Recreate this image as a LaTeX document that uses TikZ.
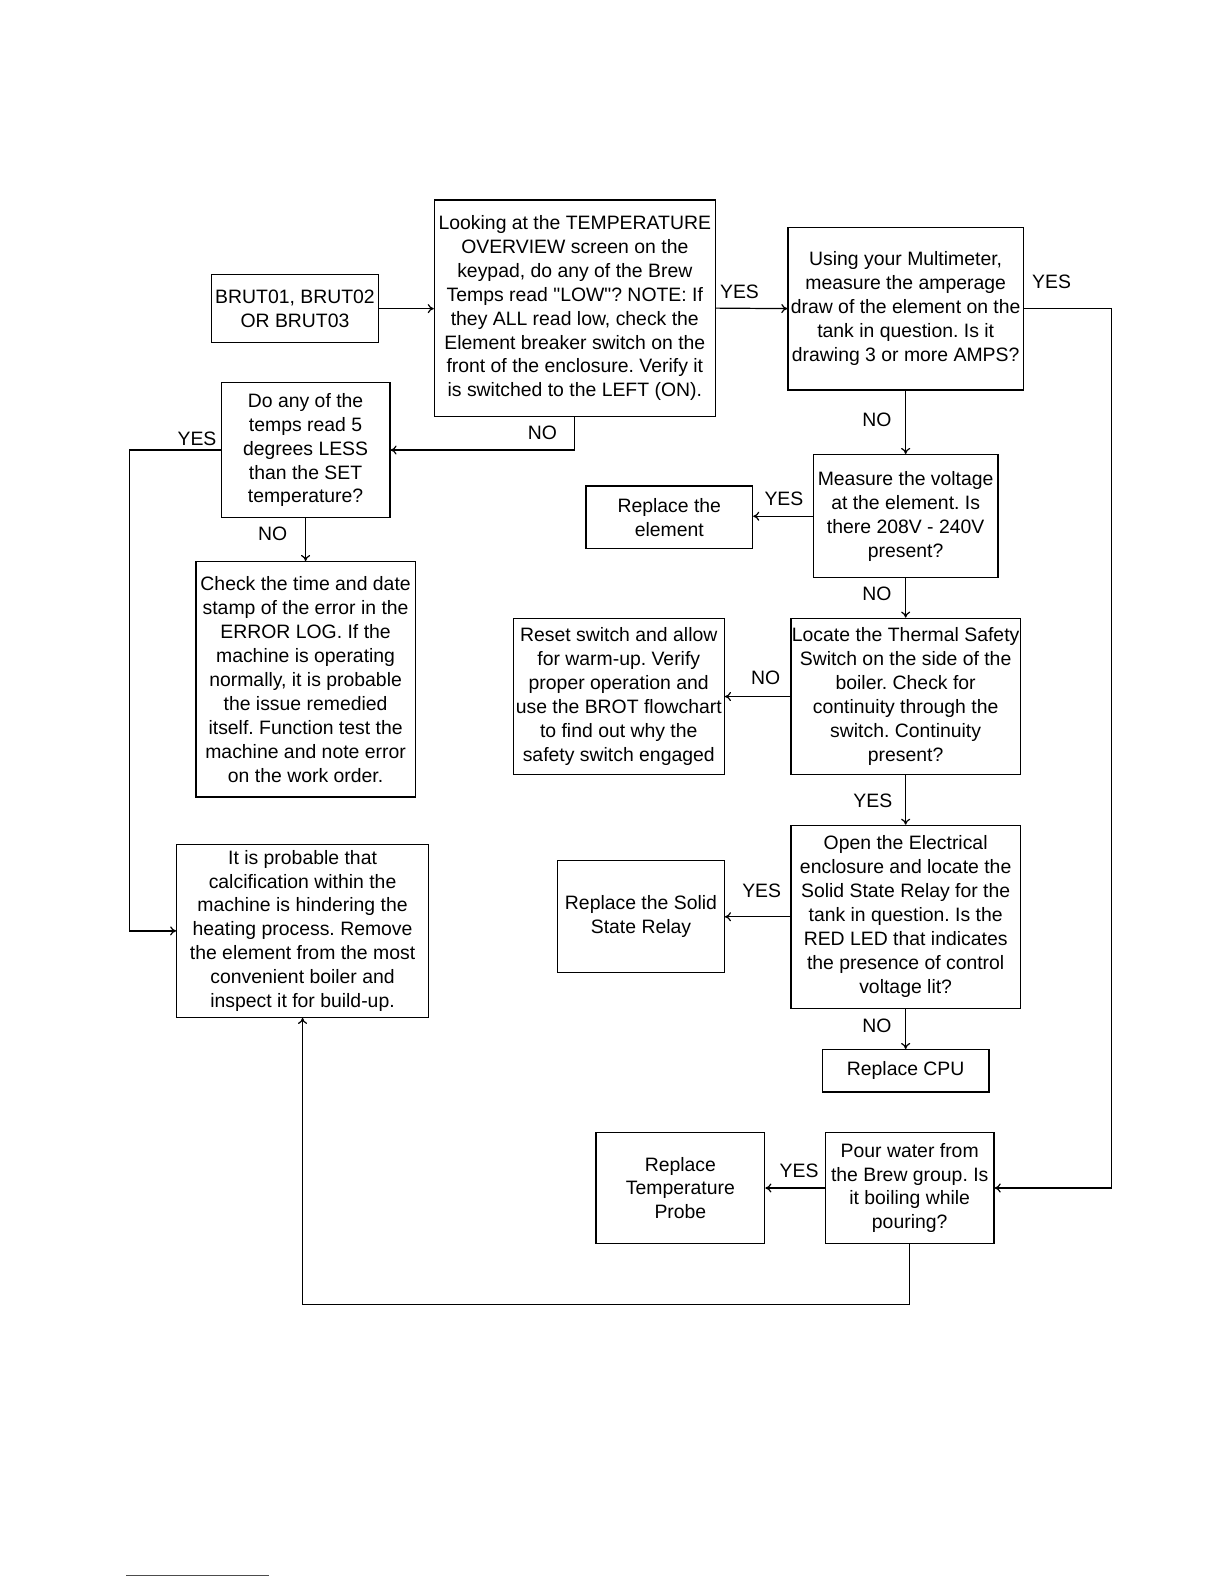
\documentclass[tikz,border=0pt]{standalone}
\usepackage{fontspec}
\setmainfont{Liberation Sans}
\usetikzlibrary{arrows.meta}
\frenchspacing

\tikzset{
  box/.style={draw, line width=0.6pt, rectangle, inner sep=0pt, align=center,
    font=\fontsize{9.6}{11.85}\selectfont},
  lbl/.style={inner sep=0pt, font=\fontsize{9.6}{11.85}\selectfont},
  arr/.style={line width=0.6pt, -{To[length=3pt,width=4.5pt]}},
  wire/.style={line width=0.6pt}
}

\begin{document}
\begin{tikzpicture}[x=0.5pt,y=0.5pt,yscale=-1,xscale=1]
\useasboundingbox (0,0) rectangle (1212,1568);

% top row
\node [box, minimum width=83pt, minimum height=33.5pt] (brut) at (292,305.5) {BRUT01, BRUT02\\OR BRUT03};
\node [box, minimum width=139pt, minimum height=107pt] (look) at (569,305) {Looking at the TEMPERATURE\\OVERVIEW screen on the\\keypad, do any of the Brew\\Temps read \textquotedbl LOW\textquotedbl? NOTE: If\\they ALL read low, check the\\Element breaker switch on the\\front of the enclosure. Verify it\\is switched to the LEFT (ON).};
\node [box, minimum width=116.5pt, minimum height=80.5pt] (multi) at (896.5,305.5) {Using your Multimeter,\\measure the amperage\\draw of the element on the\\tank in question. Is it\\drawing 3 or more AMPS?};

% left column
\node [box, minimum width=83.5pt, minimum height=66.5pt] (doany) at (302.5,445.5) {Do any of the\\temps read 5\\degrees LESS\\than the SET\\temperature?};
\node [box, minimum width=108.5pt, minimum height=116.5pt] (check) at (302.5,672.5) {Check the time and date\\stamp of the error in the\\ERROR LOG. If the\\machine is operating\\normally, it is probable\\the issue remedied\\itself. Function test the\\machine and note error\\on the work order.};
\node [box, minimum width=124.5pt, minimum height=85.5pt] (calc) at (299.5,921.5) {It is probable that\\calcification within the\\machine is hindering the\\heating process. Remove\\the element from the most\\convenient boiler and\\inspect it for build-up.};

% right column
\node [box, minimum width=91.5pt, minimum height=61pt] (volt) at (896.5,511) {Measure the voltage\\at the element. Is\\there 208V - 240V\\present?};
\node [box, minimum width=82.5pt, minimum height=31pt] (relem) at (662.5,512) {Replace the\\element};
\node [box, minimum width=113.5pt, minimum height=77.5pt] (thermal) at (896.5,689.5) {Locate the Thermal Safety\\Switch on the side of the\\boiler. Check for\\continuity through the\\switch. Continuity\\present?};
\node [box, minimum width=104.5pt, minimum height=77.5pt] (reset) at (612.5,689.5) {Reset switch and allow\\for warm-up. Verify\\proper operation and\\use the BROT flowchart\\to find out why the\\safety switch engaged};
\node [box, minimum width=113.5pt, minimum height=90.5pt] (relay) at (896.5,907.5) {Open the Electrical\\enclosure and locate the\\Solid State Relay for the\\tank in question. Is the\\RED LED that indicates\\the presence of control\\voltage lit?};
\node [box, minimum width=82.5pt, minimum height=55.5pt] (ssr) at (634.5,907.5) {Replace the Solid\\State Relay};
\node [box, minimum width=82.5pt, minimum height=21pt] (cpu) at (896.5,1060) {Replace CPU};
\node [box, minimum width=83.5pt, minimum height=55pt] (pour) at (900.5,1176) {Pour water from\\the Brew group. Is\\it boiling while\\pouring?};
\node [box, minimum width=83.5pt, minimum height=55pt] (probe) at (673.5,1176) {Replace\\Temperature\\Probe};

% connectors
\draw [arr] (brut.east) -- (brut.east -| look.west);
\draw [arr] (look.east) -- (multi.west);
\draw [arr] (look.south) |- (doany.east);
\draw [arr] (doany.west) -- ++(-90,0) |- (calc.west);
\draw [arr] (doany.south) -- (check.north);
\draw [arr] (multi.south) -- (volt.north);
\draw [arr] (multi.east) -- ++(87,0) |- (pour.east);
\draw [arr] (volt.west) -- (volt.west -| relem.east);
\draw [arr] (volt.south) -- (thermal.north);
\draw [arr] (thermal.west) -- (reset.east);
\draw [arr] (thermal.south) -- (relay.north);
\draw [arr] (relay.west) -- (ssr.east);
\draw [arr] (relay.south) -- (cpu.north);
\draw [arr] (pour.west) -- (probe.east);
\draw [arr] (pour.south) -- ++(0,60) -| (calc.south);

% branch labels
\node [lbl] (y1) at (732,289) {YES};
\node [lbl] (n1) at (537,428) {NO};
\node [lbl] (y2) at (195,434) {YES};
\node [lbl] (n2) at (270,528) {NO};
\node [lbl] (y3) at (1041,279) {YES};
\node [lbl] (n3) at (868,416) {NO};
\node [lbl] (y4) at (776,494) {YES};
\node [lbl] (n4) at (868,588) {NO};
\node [lbl] (n5) at (758,671) {NO};
\node [lbl] (y5) at (864,793) {YES};
\node [lbl] (y6) at (754,882) {YES};
\node [lbl] (n6) at (868,1015) {NO};
\node [lbl] (y7) at (791,1159) {YES};

% footnote rule
\draw [line width=0.4pt, black!70] (125,1559) -- (266,1559);
\end{tikzpicture}
\end{document}
